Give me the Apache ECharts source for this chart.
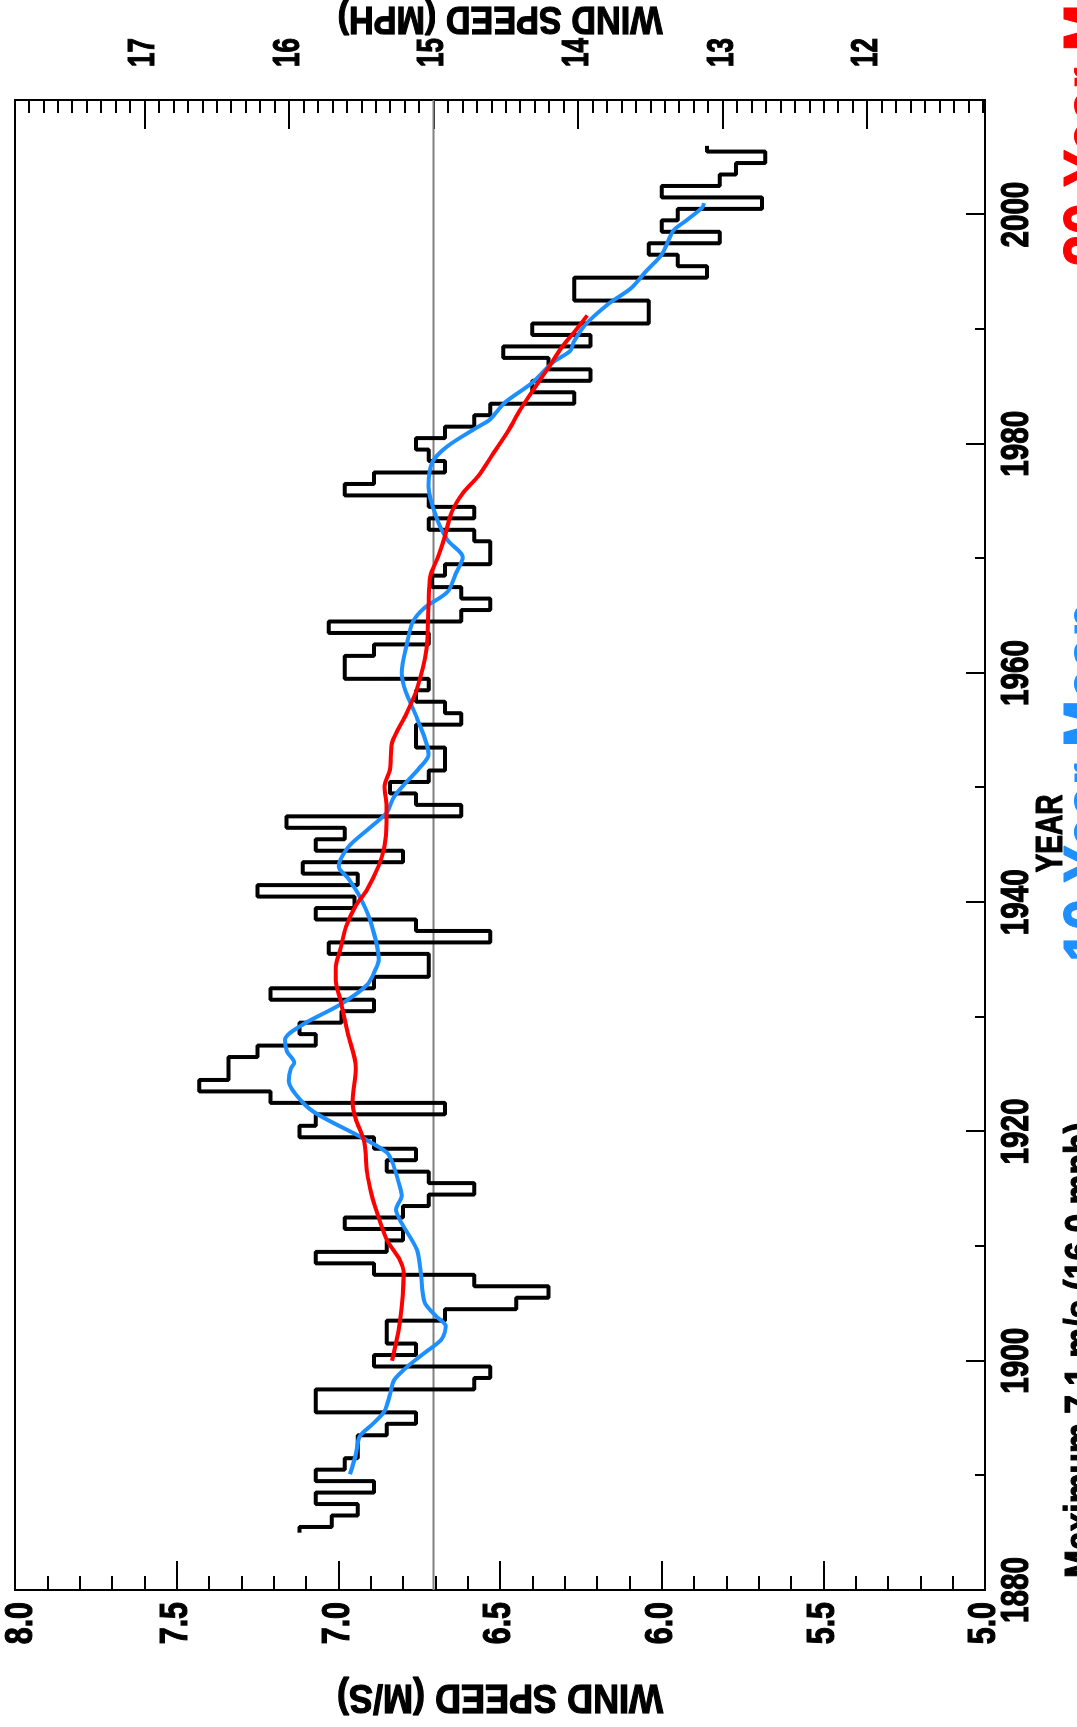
<!DOCTYPE html>
<html>
<head>
<meta charset="utf-8">
<script src="https://cdn.jsdelivr.net/npm/echarts@6/dist/echarts.min.js"></script>
<style>
  html, body { margin: 0; padding: 0; background: #fff; width: 1077px; height: 1727px; overflow: hidden; }
  /* the plot is laid out in landscape and turned a quarter turn counter-clockwise */
  #chart { position: absolute; left: 0; top: 0; width: 1727px; height: 1077px;
           transform-origin: 0 0; transform: translate(0, 1727px) rotate(-90deg); }
</style>
</head>
<body>
<div id="chart"></div>
<script>
// ---- data -------------------------------------------------------------
const firstYear = 1885;
// annual mean wind speed (m/s), one value per year from firstYear
const annualMean = [
  7.12, 7.02, 6.94, 7.07, 6.89, 7.07, 6.98, 6.94, 6.94, 6.85,
  6.76, 7.07, 7.07, 6.58, 6.53, 6.89, 6.76, 6.85, 6.85, 6.67,
  6.45, 6.35, 6.58, 6.89, 7.07, 6.85, 6.80, 6.98, 6.80, 6.72,
  6.58, 6.72, 6.85, 6.76, 6.89, 7.12, 7.07, 6.67, 7.21, 7.43,
  7.34, 7.34, 7.25, 7.07, 7.12, 6.99, 6.89, 7.21, 6.89, 6.72,
  6.72, 7.03, 6.53, 6.76, 7.07, 6.95, 7.25, 6.94, 7.11, 6.80,
  7.07, 6.98, 7.16, 6.62, 6.76, 6.84, 6.72, 6.67, 6.67, 6.76,
  6.76, 6.62, 6.67, 6.76, 6.72, 6.98, 6.98, 6.89, 6.72, 7.03,
  6.62, 6.53, 6.62, 6.71, 6.67, 6.53, 6.53, 6.58, 6.72, 6.58,
  6.72, 6.98, 6.89, 6.67, 6.72, 6.76, 6.67, 6.58, 6.53, 6.27,
  6.40, 6.22, 6.35, 6.49, 6.22, 6.40, 6.04, 6.04, 6.27, 6.27,
  5.86, 5.95, 6.04, 5.82, 6.00, 5.95, 5.69, 6.00, 5.82, 5.77,
  5.68, 5.86
];

// 10-year running mean (m/s)
const tenYearYears = [
  1890.1, 1891.8, 1893.4, 1894.5, 1895.6, 1897.1, 1898.3, 1899.5, 1900.7, 1901.9,
  1903.0, 1903.9, 1905.1, 1907.7, 1909.7, 1912.0, 1913.2, 1914.4, 1915.7, 1917.4,
  1918.2, 1919.4, 1921.5, 1922.6, 1924.4, 1925.5, 1926.0, 1927.0, 1928.0, 1929.3,
  1931.1, 1932.8, 1934.2, 1935.0, 1938.2, 1940.5, 1942.1, 1943.1, 1944.8, 1946.3,
  1947.8, 1949.2, 1950.4, 1951.7, 1952.9, 1956.1, 1958.4, 1960.0, 1962.8, 1964.5,
  1965.7, 1967.1, 1968.6, 1970.1, 1971.6, 1973.7, 1976.3, 1978.4, 1979.8, 1981.5,
  1982.1, 1983.6, 1985.3, 1987.1, 1988.1, 1988.9, 1990.4, 1992.2, 1993.6, 1995.1,
  1996.5, 1998.6, 1999.4, 2000.6, 2001.0
];
const tenYearValues = [
  6.964, 6.946, 6.934, 6.893, 6.857, 6.840, 6.828, 6.786, 6.733, 6.680,
  6.668, 6.698, 6.733, 6.745, 6.757, 6.804, 6.822, 6.804, 6.815, 6.834,
  6.851, 6.922, 7.064, 7.112, 7.153, 7.147, 7.136, 7.159, 7.165, 7.112,
  6.993, 6.911, 6.884, 6.875, 6.899, 6.934, 6.970, 6.999, 6.970, 6.911,
  6.851, 6.828, 6.792, 6.750, 6.721, 6.757, 6.792, 6.804, 6.786, 6.769,
  6.733, 6.662, 6.638, 6.615, 6.662, 6.698, 6.721, 6.709, 6.662, 6.567,
  6.532, 6.485, 6.402, 6.337, 6.283, 6.272, 6.236, 6.165, 6.094, 6.047,
  6.000, 5.964, 5.928, 5.875, 5.869
];

// 20-year running mean (m/s)
const twentyYearYears = [
  1900.0, 1903.3, 1907.7, 1908.8, 1910.6, 1913.5, 1914.7, 1916.4, 1919.1, 1921.1,
  1922.6, 1925.6, 1928.5, 1931.4, 1933.2, 1934.3, 1936.0, 1937.9, 1939.7, 1941.1,
  1943.2, 1944.9, 1946.9, 1948.4, 1950.1, 1951.6, 1953.9, 1956.3, 1958.6, 1962.1,
  1965.9, 1968.5, 1970.1, 1971.6, 1974.0, 1975.7, 1977.2, 1979.2, 1981.2, 1983.0,
  1985.0, 1986.7, 1988.5, 1989.7, 1991.2
];
const twentyYearValues = [
  6.834, 6.810, 6.798, 6.810, 6.851, 6.887, 6.899, 6.911, 6.920, 6.946,
  6.956, 6.946, 6.970, 6.993, 7.008, 7.008, 6.993, 6.976, 6.946, 6.911,
  6.875, 6.857, 6.851, 6.851, 6.857, 6.840, 6.834, 6.792, 6.757, 6.727,
  6.721, 6.715, 6.692, 6.674, 6.650, 6.615, 6.567, 6.520, 6.473, 6.437,
  6.390, 6.349, 6.307, 6.272, 6.230
];

// reference level drawn across the plot (mph)
const referenceMph = 15;

// axis ranges and tick labels
const yearRange = [1880, 2010];
const yearTickLabels = [1880, 1900, 1920, 1940, 1960, 1980, 2000];
const speedRangeMps = [5.0, 8.0];
const mpsTickLabels = [8.0, 7.5, 7.0, 6.5, 6.0, 5.5, 5.0];
const mphTickLabels = [17, 16, 15, 14, 13, 12];

const axisTitles = { year: 'YEAR', mps: 'WIND SPEED (M/S)', mph: 'WIND SPEED (MPH)' };
const captionTexts = ['Maximum 7.1 m/s (16.0 mph)', '10 Year Mean', '20 Year Mean'];

// ---- helpers ----------------------------------------------------------
const MPS_PER_MPH = 0.44704;
const mphMin = speedRangeMps[0] / MPS_PER_MPH;
const mphMax = speedRangeMps[1] / MPS_PER_MPH;
const mphMinorTicks = [];
for (let t = Math.ceil(mphMin * 10); t <= Math.floor(mphMax * 10); t++) mphMinorTicks.push(t / 10);

const annualSeries = annualMean.map((v, i) => [firstYear + i, v]);
const tenYearSeries = tenYearYears.map((y, i) => [y, tenYearValues[i]]);
const twentyYearSeries = twentyYearYears.map((y, i) => [y, twentyYearValues[i]]);

const FONT = "'Liberation Sans', Arial, Helvetica, sans-serif";
const BLACK = '#000';
const BLUE = '#1e8fff';
const RED = '#ff0000';

const chart = echarts.init(document.getElementById('chart'), null, { renderer: 'canvas', width: 1727, height: 1077 });

const tickLine = { color: BLACK, width: 2 };
chart.setOption({
  backgroundColor: '#fff',
  animation: false,
  grid: { left: 137, right: 100, top: 15, bottom: 92, outerBoundsMode: 'none', containLabel: false,
          show: true, borderColor: BLACK, borderWidth: 2, backgroundColor: 'transparent' },
  xAxis: [{
    type: 'value', position: 'bottom', min: yearRange[0], max: yearRange[1], interval: 20,
    axisLine: { show: true, onZero: false, lineStyle: tickLine },
    axisTick: { show: true, inside: true, length: 19, lineStyle: tickLine },
    minorTick: { show: true, splitNumber: 2, length: 10, lineStyle: tickLine },
    axisLabel: { show: false },
    splitLine: { show: false }
  }],
  yAxis: [{
    type: 'value', position: 'left', min: speedRangeMps[0], max: speedRangeMps[1], interval: 0.5,
    axisLine: { show: true, onZero: false, lineStyle: tickLine },
    axisTick: { show: true, inside: true, length: 29, lineStyle: tickLine },
    minorTick: { show: true, splitNumber: 5, length: 14, lineStyle: tickLine },
    axisLabel: { show: false },
    splitLine: { show: false }
  }, {
    type: 'value', position: 'right', min: mphMin, max: mphMax,
    axisLine: { show: true, onZero: false, lineStyle: tickLine },
    axisTick: { show: true, inside: true, length: 29, customValues: mphTickLabels, lineStyle: tickLine },
    axisLabel: { show: false },
    splitLine: { show: false }
  }, {
    type: 'value', position: 'right', min: mphMin, max: mphMax,
    axisLine: { show: false },
    axisTick: { show: true, inside: true, length: 13, customValues: mphMinorTicks, lineStyle: tickLine },
    axisLabel: { show: false },
    splitLine: { show: false }
  }],
  series: [{
    name: 'Reference', type: 'line', yAxisIndex: 1, symbol: 'none', silent: true,
    data: [[yearRange[0], referenceMph], [yearRange[1], referenceMph]],
    lineStyle: { color: '#808080', width: 2 }, z: 1
  }, {
    name: 'Annual Mean', type: 'line', step: 'middle', symbol: 'none',
    data: annualSeries, lineStyle: { color: BLACK, width: 4 }, z: 2
  }, {
    name: '10 Year Mean', type: 'line', smooth: 0.3, symbol: 'none',
    data: tenYearSeries, lineStyle: { color: BLUE, width: 4 }, z: 3
  }, {
    name: '20 Year Mean', type: 'line', smooth: 0.3, symbol: 'none',
    data: twentyYearSeries, lineStyle: { color: RED, width: 4 }, z: 4
  }]
});

// ---- text: tick labels, titles and captions placed from the axis scales ----
function text(str, x, y, o) {
  const color = o.color || BLACK;
  return {
    type: 'text', x: x, y: y, rotation: o.rot || 0, scaleX: o.sx || 1, silent: true, z: 10,
    style: { text: str, fill: color, stroke: color, lineWidth: o.heavy == null ? 1.2 : o.heavy,
             fontSize: o.size, fontWeight: 'bold', fontFamily: FONT,
             textAlign: o.align || 'center', textVerticalAlign: o.valign || 'middle' }
  };
}
const xPix = v => chart.convertToPixel({ xAxisIndex: 0 }, v);
const mpsPix = v => chart.convertToPixel({ yAxisIndex: 0 }, v);
const mphPix = v => chart.convertToPixel({ yAxisIndex: 1 }, v);

const gridLeft = xPix(yearRange[0]);
const gridRight = xPix(yearRange[1]);
const gridTop = mpsPix(speedRangeMps[1]);
const gridBottom = mpsPix(speedRangeMps[0]);
const midY = (gridTop + gridBottom) / 2;

const labels = [];
yearTickLabels.forEach(y => labels.push(text(String(y), xPix(y), gridBottom + 33, { size: 38, sx: 0.78 })));
mpsTickLabels.forEach(v => labels.push(text(v.toFixed(1), gridLeft - 12, Math.max(mpsPix(v), gridTop + 7),
                                             { size: 38, sx: 0.8, align: 'right' })));
mphTickLabels.forEach(v => labels.push(text(String(v), gridRight + 33, mphPix(v), { size: 36, sx: 0.72, align: 'left' })));

labels.push(text(axisTitles.mps, gridLeft - 106, midY, { size: 40, sx: 0.9, rot: Math.PI / 2 }));
labels.push(text(axisTitles.mph, gridRight + 83, midY, { size: 38, sx: 0.9, rot: Math.PI / 2 }));
labels.push(text(axisTitles.year, xPix(1946), gridBottom + 67, { size: 37, sx: 0.76 }));

// caption row below the year title; only its upper edge falls inside the picture
const captionTop = gridBottom + 83;
labels.push(text(captionTexts[0], gridLeft + 12, captionTop - 0.142 * 40, { size: 40, sx: 0.84, align: 'left', valign: 'top' }));
labels.push(text(captionTexts[1], xPix(1934.8), captionTop - 0.142 * 66, { size: 66, sx: 0.86, align: 'left', valign: 'top', color: BLUE }));
labels.push(text(captionTexts[2], xPix(1995.5), captionTop - 0.142 * 66, { size: 66, sx: 0.86, align: 'left', valign: 'top', color: RED }));

chart.setOption({ graphic: labels });
</script>
</body>
</html>
